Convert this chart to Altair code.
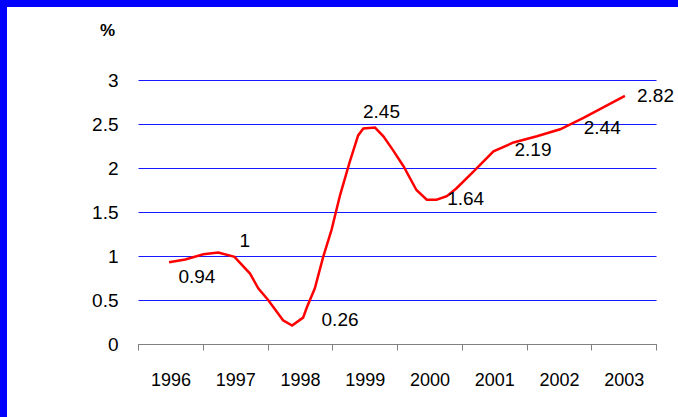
import altair as alt
import pandas as pd

# Traced curve (fractional year, %)
line_years = [1995.98, 1996.23, 1996.51, 1996.74, 1996.99, 1997.23, 1997.36, 1997.51,
              1997.74, 1997.88, 1998.05, 1998.11, 1998.23, 1998.36, 1998.49, 1998.62,
              1998.77, 1998.90, 1998.98, 1999.16, 1999.29, 1999.44, 1999.60, 1999.80,
              1999.96, 2000.11, 2000.27, 2000.42, 2000.68, 2000.99, 2001.30, 2001.66,
              2002.02, 2002.38, 2003.02]
line_values = [0.93, 0.96, 1.02, 1.04, 0.99, 0.80, 0.63, 0.50,
               0.27, 0.21, 0.30, 0.42, 0.63, 0.99, 1.30, 1.69,
               2.07, 2.37, 2.45, 2.46, 2.36, 2.20, 2.02, 1.75,
               1.64, 1.64, 1.68, 1.77, 1.96, 2.19, 2.29, 2.36,
               2.44, 2.57, 2.82]

# Value labels, anchored in data units
label_texts = ["0.94", "1", "0.26", "2.45", "1.64", "2.19", "2.44", "2.82"]
label_x = [1996.41, 1997.15, 1998.62, 1999.26, 2000.56, 2001.60, 2002.67, 2003.50]
label_y = [0.76, 1.17, 0.27, 2.64, 1.65, 2.20, 2.455, 2.82]
label_align = ["center"] * 7 + ["left"]

tick_years = [1995.5 + i for i in range(9)]
y_ticks = [0, 0.5, 1, 1.5, 2, 2.5, 3]

FONT = "Liberation Sans"

line_df = pd.DataFrame({"year": line_years, "value": line_values})
lab_df = pd.DataFrame({"x": label_x, "y": label_y, "text": label_texts, "align": label_align})

x_scale = alt.Scale(domain=[1995.5, 2003.5], nice=False, zero=False)
y_scale = alt.Scale(domain=[0, 3], nice=False)

x_axis = alt.Axis(
    values=tick_years, title=None, grid=False,
    domainColor="#808080", tickColor="#808080", tickSize=6, tickWidth=1,
    labelFont=FONT, labelFontSize=18, labelColor="#000000",
    labelOffset=32.4, labelFlush=False, labelPadding=21, labelAlign="center",
    labelExpr="datum.value > 2003 ? '' : format(datum.value + 0.5, 'd')",
    zindex=1,
)
y_axis = alt.Axis(
    values=y_ticks, title="%", titleAngle=0, titleX=-31, titleY=-50,
    titleAlign="center", titleBaseline="middle", titleFont=FONT,
    titleFontSize=17, titleFontWeight="bold", titleColor="#000000",
    domain=False, ticks=False, grid=True, gridColor="#0000ff", gridWidth=1,
    gridOpacity=0.9,
    labelFont=FONT, labelFontSize=19, labelColor="#000000", labelPadding=20,
    labelExpr="format(datum.value, '~g')",
)

line = alt.Chart(line_df).mark_line(
    color="#ff0000", strokeWidth=2.5, interpolate="linear"
).encode(
    x=alt.X("year:Q", scale=x_scale, axis=x_axis),
    y=alt.Y("value:Q", scale=y_scale, axis=y_axis),
)

labels_c = alt.Chart(lab_df[lab_df["align"] == "center"]).mark_text(
    font=FONT, fontSize=19, color="#000000", align="center", baseline="middle"
).encode(x=alt.X("x:Q", scale=x_scale), y=alt.Y("y:Q", scale=y_scale), text="text:N")

labels_l = alt.Chart(lab_df[lab_df["align"] == "left"]).mark_text(
    font=FONT, fontSize=19, color="#000000", align="left", baseline="middle", dx=-19
).encode(x=alt.X("x:Q", scale=x_scale), y=alt.Y("y:Q", scale=y_scale), text="text:N")

chart = alt.layer(line, labels_c, labels_l).properties(
    width=518, height=264,
    padding={"left": 130, "top": 72, "right": 22, "bottom": 70},
    autosize=alt.AutoSizeParams(type="none"),
    background="#ffffff",
).configure_view(stroke=None)

css = ("html,body{margin:0;padding:0;background:#ffffff}"
       "body{box-sizing:border-box;min-height:100vh;"
       "border-top:7px solid #0000ff;border-left:7px solid #0000ff;padding:1px 0 0 1px}")

chart.save("out.html", embed_options={"renderer": "svg", "actions": False, "defaultStyle": css})
